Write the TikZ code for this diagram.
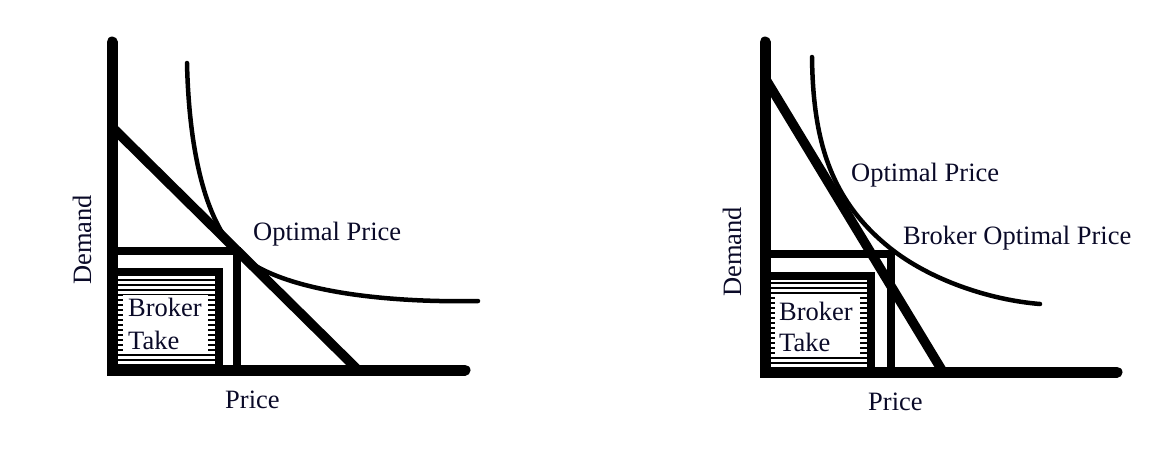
\documentclass[tikz,border=0pt]{standalone}
\usepackage{fontspec}
\setmainfont{Liberation Serif}
\definecolor{txt}{RGB}{10,10,40}
\begin{document}
\begin{tikzpicture}[x=1pt,y=-1pt,
  axis/.style={line width=11pt, line cap=round, line join=miter},
  diag/.style={line width=9.5pt},
  guide/.style={line width=8.5pt, line join=miter},
  curvestyle/.style={line width=4.5pt, line cap=round},
  stripe/.style={line width=2.4pt},
  lbl/.style={inner sep=0pt, text=txt, font=\fontsize{26.5}{30}\selectfont}]
\useasboundingbox[fill=white] (0,0) rectangle (1158,448);

% ---------------- left panel ----------------
\coordinate (LT) at (112,42);
\coordinate (LO) at (112,370);
\coordinate (LR) at (465,370);
\coordinate (LDa) at (112,127);
\coordinate (LDb) at (358,370);
\coordinate (LHa) at (112,251);
\coordinate (LHb) at (237,251);
\coordinate (LVb) at (237,370);
\coordinate (LBa) at (112,272);
\coordinate (LBc) at (219,272);
\coordinate (LBd) at (219,370);
\coordinate (LC0) at (187,63);
\coordinate (LC1) at (237,252);
\coordinate (LC2) at (478,301);

\foreach \yy in {280,285,...,365} \draw[stripe] (117,\yy) -- (215,\yy);
\fill[white] (123,295) rectangle (208,353);
\draw[guide] (LBa) -- (LBc) -- (LBd);
\draw[guide] (LHa) -- (LHb) -- (LVb);
\draw[diag] (LDa) -- (LDb);
\draw[curvestyle] (LC0) .. controls (189,150) and (205,220) .. (LC1)
  .. controls (275,290) and (380,303) .. (LC2);
\draw[axis] (LT) -- (LO) -- (LR);

\node[lbl, anchor=base west] (lop) at (253,240) {Optimal Price};
\node[lbl, anchor=base west] (lbr) at (128,316) {Broker};
\node[lbl, anchor=base west] (ltk) at (128,349) {Take};
\node[lbl, anchor=base west] (lpr) at (225,408) {Price};
\node[lbl, rotate=90, anchor=base] (ldm) at (91,240) {Demand};

% ---------------- right panel ----------------
\coordinate (RT) at (765,42);
\coordinate (RO) at (765,372);
\coordinate (RR) at (1117,372);
\coordinate (RDa) at (765,78);
\coordinate (RDb) at (943,372);
\coordinate (RHa) at (765,254);
\coordinate (RHb) at (891,254);
\coordinate (RVb) at (891,372);
\coordinate (RBa) at (765,276);
\coordinate (RBc) at (871,276);
\coordinate (RBd) at (871,372);
\coordinate (RC0) at (812,57);
\coordinate (RC1) at (890,248);
\coordinate (RC2) at (1040,304);

\foreach \yy in {283,288,...,368} \draw[stripe] (770,\yy) -- (867,\yy);
\fill[white] (775,295) rectangle (860,355);
\draw[guide] (RBa) -- (RBc) -- (RBd);
\draw[guide] (RHa) -- (RHb) -- (RVb);
\draw[diag] (RDa) -- (RDb);
\draw[curvestyle] (RC0) .. controls (813,140) and (830,200) .. (RC1)
  .. controls (930,280) and (990,300) .. (RC2);
\draw[axis] (RT) -- (RO) -- (RR);

\node[lbl, anchor=base west] (rop) at (851,181) {Optimal Price};
\node[lbl, anchor=base west] (rbop) at (903,244) {Broker Optimal Price};
\node[lbl, anchor=base west] (rbr) at (779,320) {Broker};
\node[lbl, anchor=base west] (rtk) at (779,351) {Take};
\node[lbl, anchor=base west] (rpr) at (868,410) {Price};
\node[lbl, rotate=90, anchor=base] (rdm) at (741,252) {Demand};
\end{tikzpicture}
\end{document}
